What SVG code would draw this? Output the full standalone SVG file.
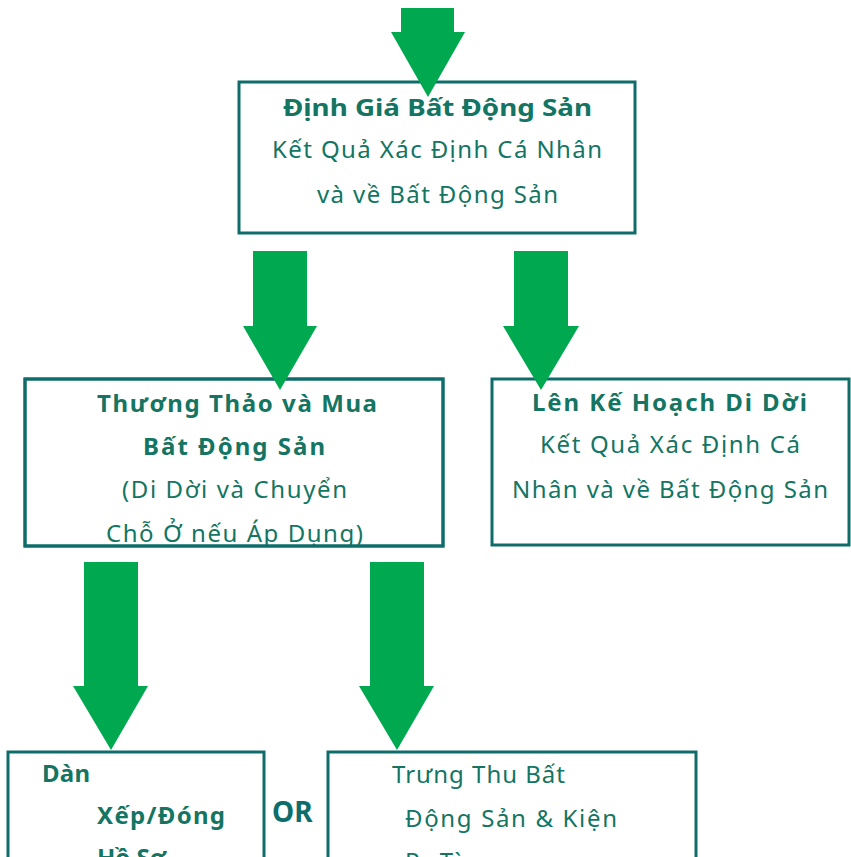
<svg xmlns="http://www.w3.org/2000/svg" width="851" height="857" viewBox="0 0 851 857">
<style>
.box{fill:#ffffff;stroke:#0e6d6b;stroke-width:3}
.t{font-family:"Noto Sans","Open Sans","DejaVu Sans",sans-serif;font-size:24px;fill:#137562}
.b{font-weight:bold}
.arrow{fill:#00a84f}
</style>
<defs>
<clipPath id="c2"><rect x="25" y="379" width="418" height="167"/></clipPath>
</defs>
<rect width="851" height="857" fill="#ffffff"/>
<g id="node-dinh-gia">
<rect class="box" x="239" y="82" width="396" height="151"/>
<text class="t b" x="283" y="116" textLength="309" lengthAdjust="spacingAndGlyphs">Định Giá Bất Động Sản</text>
<text class="t" x="272" y="158" textLength="330" lengthAdjust="spacing">Kết Quả Xác Định Cá Nhân</text>
<text class="t" x="317" y="203" textLength="241" lengthAdjust="spacing">và về  Bất Động Sản</text>
</g>
<g id="node-thuong-thao">
<rect class="box" x="25" y="379" width="418" height="167"/>
<g clip-path="url(#c2)">
<text class="t b" x="97" y="412" textLength="280" lengthAdjust="spacing">Thương Thảo và Mua</text>
<text class="t b" x="143" y="455" textLength="182" lengthAdjust="spacing">Bất Động Sản</text>
<text class="t" x="122" y="498" textLength="225" lengthAdjust="spacing">(Di Dời và Chuyển</text>
<text class="t" x="106" y="542" textLength="257" lengthAdjust="spacing">Chỗ Ở nếu Áp Dụng)</text>
</g>
<rect x="25" y="379" width="418" height="167" fill="none" stroke="#0e6d6b" stroke-width="3"/>
</g>
<g id="node-di-doi">
<rect class="box" x="492" y="379" width="357" height="166"/>
<text class="t b" x="532" y="411" textLength="275" lengthAdjust="spacing">Lên Kế Hoạch Di Dời</text>
<text class="t" x="540" y="453" textLength="260" lengthAdjust="spacing">Kết Quả Xác Định Cá</text>
<text class="t" x="512" y="498" textLength="316" lengthAdjust="spacing">Nhân và về Bất Động Sản</text>
</g>
<g id="node-dan-xep">
<rect class="box" x="8" y="752" width="256" height="120"/>
<text class="t b" x="42" y="782" textLength="48" lengthAdjust="spacing">Dàn</text>
<text class="t b" x="97" y="824" textLength="128" lengthAdjust="spacing">Xếp/Đóng</text>
<text class="t b" x="97" y="866">Hồ Sơ</text>
</g>
<g id="node-or">
<text class="t b" x="272" y="822" font-size="28" style="font-size:28px;fill:#0e6d6b">OR</text>
</g>
<g id="node-trung-thu">
<rect class="box" x="328" y="752" width="368" height="120"/>
<text class="t" x="392" y="783" textLength="173" lengthAdjust="spacing">Trưng Thu Bất</text>
<text class="t" x="405" y="827" textLength="212" lengthAdjust="spacing">Động Sản  &amp; Kiện</text>
<text class="t" x="405" y="870">Ra Tòa</text>
</g>
<g id="connectors">
<polygon class="arrow" points="401,8 454,8 454,32 465,32 428,97 391,32 401,32"/>
<polygon class="arrow" points="253,251 307,251 307,326 317,326 280,390 243,326 253,326"/>
<polygon class="arrow" points="514,251 568,251 568,326 579,326 541,390 503,326 514,326"/>
<polygon class="arrow" points="84,562 138,562 138,686 148,686 111,750 73,686 84,686"/>
<polygon class="arrow" points="370,562 424,562 424,686 434,686 397,750 359,686 370,686"/>
</g>
</svg>
